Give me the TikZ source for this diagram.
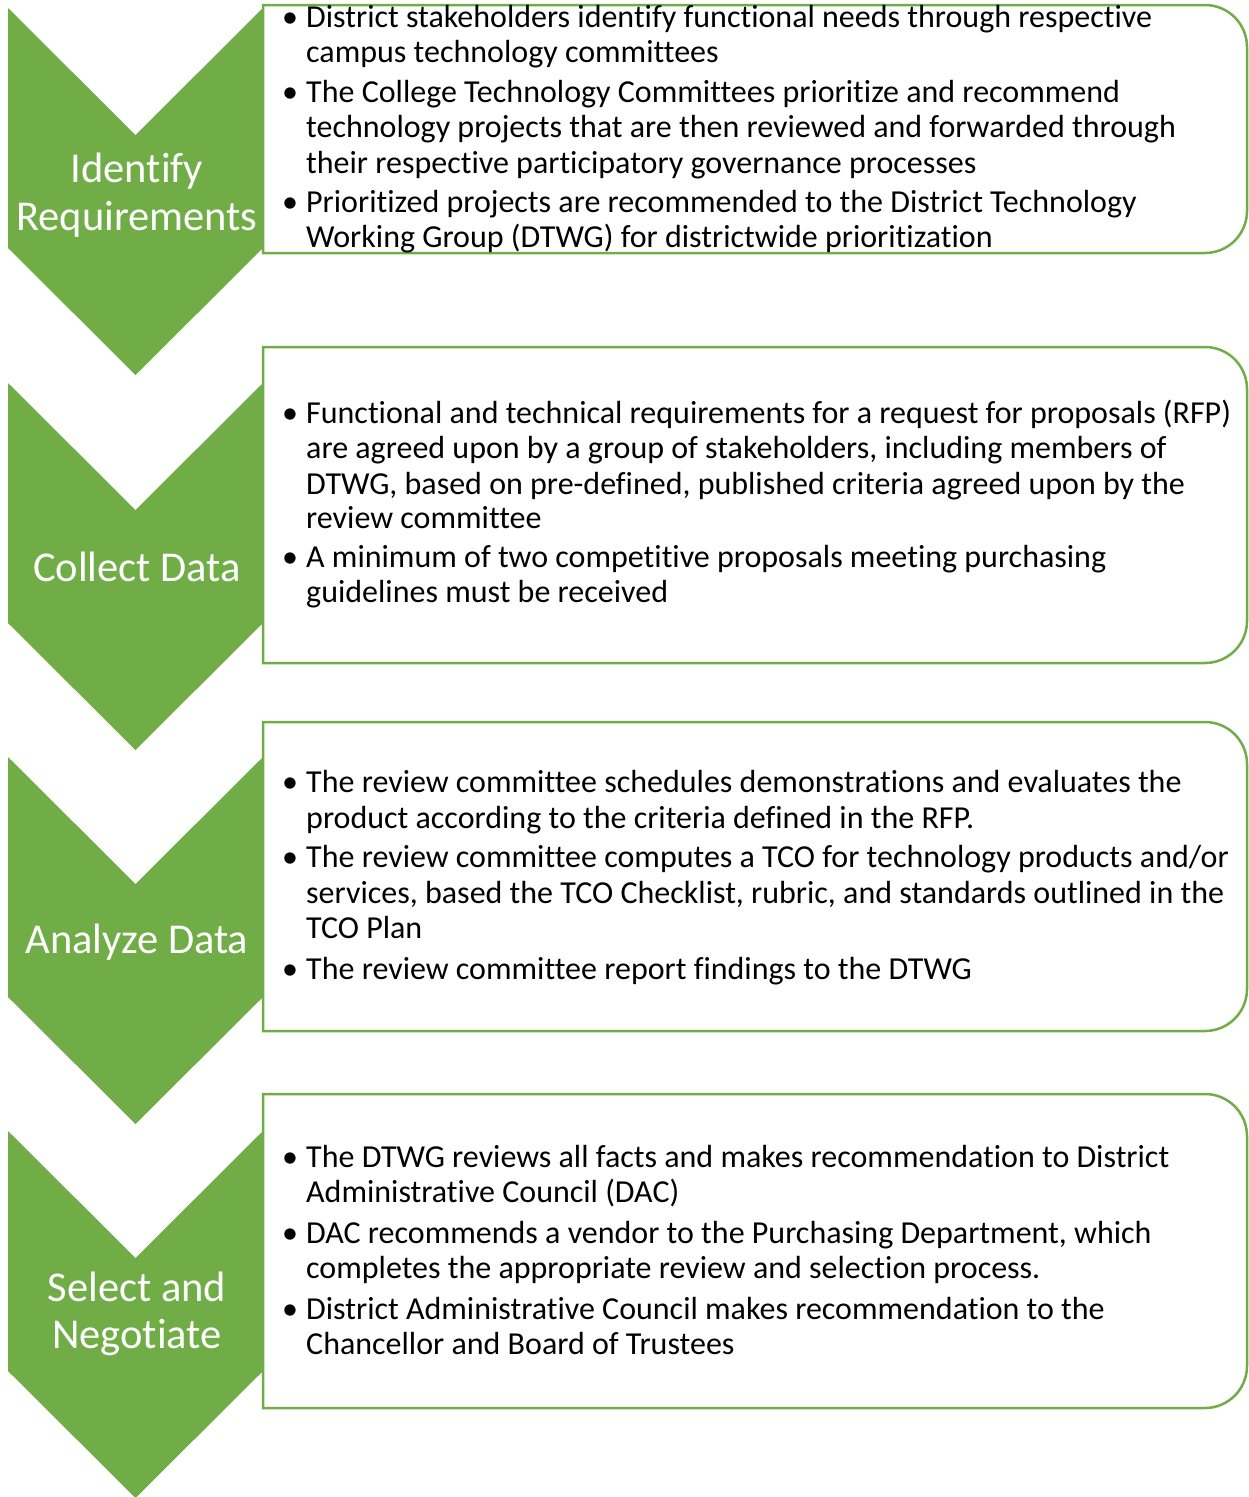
\documentclass[tikz,border=0pt]{standalone}
\usepackage{fontspec}
\setmainfont[Ligatures={NoCommon}]{Carlito}
\definecolor{grn}{HTML}{70AD47}
\begin{document}
\begin{tikzpicture}[x=1pt,y=-1pt,
  chev/.style={fill=grn,draw=none},
  card/.style={draw=grn,line width=2.5pt,fill=white},
  lbl/.style={text=white,font=\fontsize{42.5}{47.5}\selectfont,anchor=base,inner sep=0pt},
  txt/.style={font=\fontsize{32}{35}\selectfont,anchor=base west,inner sep=0pt},
  bul/.style={font=\fontsize{32}{35}\selectfont,anchor=base,inner sep=0pt}]
\useasboundingbox (0,0) rectangle (1248,1497);

% chevrons
\foreach \T in {8,383,757,1131}{
  \fill[chev] (8,\T) -- (135.5,\T+127) -- (263,\T) -- (263,\T+240)
     -- (135.5,\T+367) -- (8,\T+240) -- cycle;
}

% cards
\draw[card] (263,5) -- (1205,5) arc[start angle=-90,end angle=0,radius=42]
  -- (1247,211) arc[start angle=0,end angle=90,radius=42] -- (263,253) -- cycle;
\draw[card] (263,347) -- (1205,347) arc[start angle=-90,end angle=0,radius=42]
  -- (1247,621) arc[start angle=0,end angle=90,radius=42] -- (263,663) -- cycle;
\draw[card] (263,722) -- (1205,722) arc[start angle=-90,end angle=0,radius=42]
  -- (1247,989) arc[start angle=0,end angle=90,radius=42] -- (263,1031) -- cycle;
\draw[card] (263,1094) -- (1205,1094) arc[start angle=-90,end angle=0,radius=42]
  -- (1247,1366) arc[start angle=0,end angle=90,radius=42] -- (263,1408) -- cycle;

% chevron labels
\node[lbl] (c1a) at (137,182) {Identify};
\node[lbl] (c1b) at (137,230) {Requirements};
\node[lbl] (c2) at (137,581) {Collect Data};
\node[lbl] (c3) at (137,953) {Analyze Data};
\node[lbl] (c4a) at (137,1301) {Select and};
\node[lbl] (c4b) at (137,1348) {Negotiate};

% box 1
\node[bul] (b1a) at (290,27) {\textbullet};
\node[txt] (t1a) at (306,27) {District stakeholders identify functional needs through respective};
\node[txt] (t1b) at (306,62) {campus technology committees};
\node[bul] (b1b) at (290,102) {\textbullet};
\node[txt] (t1c) at (306,102) {The College Technology Committees prioritize and recommend};
\node[txt] (t1d) at (306,137) {technology projects that are then reviewed and forwarded through};
\node[txt] (t1e) at (306,173) {their respective participatory governance processes};
\node[bul] (b1c) at (290,212) {\textbullet};
\node[txt] (t1f) at (306,212) {Prioritized projects are recommended to the District Technology};
\node[txt] (t1g) at (306,247) {Working Group (DTWG) for districtwide prioritization};

% box 2
\node[bul] (b2a) at (290,423) {\textbullet};
\node[txt] (t2a) at (306,423) {Functional and technical requirements for a request for proposals (RFP)};
\node[txt] (t2b) at (306,458) {are agreed upon by a group of stakeholders, including members of};
\node[txt] (t2c) at (306,494) {DTWG, based on pre-defined, published criteria agreed upon by the};
\node[txt] (t2d) at (306,528) {review committee};
\node[bul] (b2b) at (290,567) {\textbullet};
\node[txt] (t2e) at (306,567) {A minimum of two competitive proposals meeting purchasing};
\node[txt] (t2f) at (306,602) {guidelines must be received};

% box 3
\node[bul] (b3a) at (290,792) {\textbullet};
\node[txt] (t3a) at (306,792) {The review committee schedules demonstrations and evaluates the};
\node[txt] (t3b) at (306,828) {product according to the criteria defined in the RFP.};
\node[bul] (b3b) at (290,867) {\textbullet};
\node[txt] (t3c) at (306,867) {The review committee computes a TCO for technology products and/or};
\node[txt] (t3d) at (306,903) {services, based the TCO Checklist, rubric, and standards outlined in the};
\node[txt] (t3e) at (306,938) {TCO Plan};
\node[bul] (b3c) at (290,979) {\textbullet};
\node[txt] (t3f) at (306,979) {The review committee report findings to the DTWG};

% box 4
\node[bul] (b4a) at (290,1167) {\textbullet};
\node[txt] (t4a) at (306,1167) {The DTWG reviews all facts and makes recommendation to District};
\node[txt] (t4b) at (306,1202) {Administrative Council (DAC)};
\node[bul] (b4b) at (290,1243) {\textbullet};
\node[txt] (t4c) at (306,1243) {DAC recommends a vendor to the Purchasing Department, which};
\node[txt] (t4d) at (306,1278) {completes the appropriate review and selection process.};
\node[bul] (b4c) at (290,1319) {\textbullet};
\node[txt] (t4e) at (306,1319) {District Administrative Council makes recommendation to the};
\node[txt] (t4f) at (306,1354) {Chancellor and Board of Trustees};
\end{tikzpicture}
\end{document}
